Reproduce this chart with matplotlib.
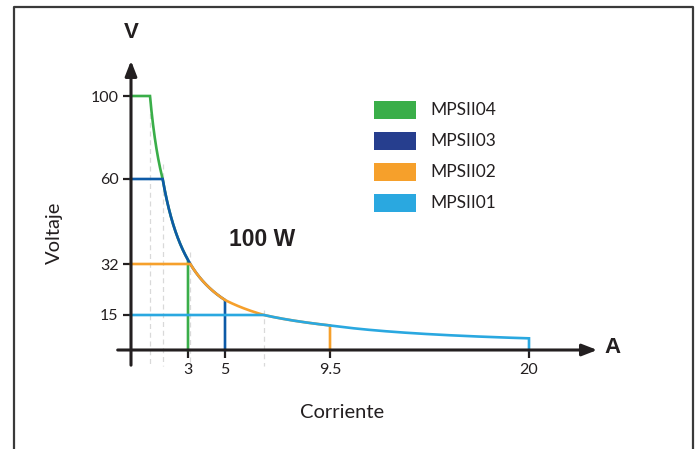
import matplotlib.pyplot as plt
import numpy as np
from matplotlib.lines import Line2D
from matplotlib.patches import Rectangle

# 100 W power curves: constant voltage up to the knee, then V = P / I
power = 100
models = ['MPSII04', 'MPSII03', 'MPSII02', 'MPSII01']
max_volt = [100, 60, 32, 15]
max_curr = [3, 5, 9.5, 20]
colors = ['#3aae49', '#0d5aa7', '#f6a02b', '#2aa8e0']
legend_colors = ['#3aae49', '#263e8e', '#f6a02b', '#2aa8e0']

xticks = [3, 5, 9.5, 20]
yticks = [15, 32, 60, 100]

# the chart is schematic: axis spacing is piecewise, not linear
x_knots = np.array([0, 3, 5, 9.5, 20])
x_pix = np.array([131, 188, 225, 330, 529])
y_knots = np.array([0, 15, 32, 60, 100])
y_pix = np.array([99, 134, 185, 270, 353])


def piecewise(xp, fp):
    def f(v):
        v = np.asarray(v, dtype=float)
        out = np.interp(v, xp, fp)
        lo = v < xp[0]
        hi = v > xp[-1]
        s0 = (fp[1] - fp[0]) / (xp[1] - xp[0])
        s1 = (fp[-1] - fp[-2]) / (xp[-1] - xp[-2])
        out = np.where(lo, fp[0] + (v - xp[0]) * s0, out)
        out = np.where(hi, fp[-1] + (v - xp[-1]) * s1, out)
        return out
    return f


fx, ix = piecewise(x_knots, x_pix), piecewise(x_pix, x_knots)
fy, iy = piecewise(y_knots, y_pix), piecewise(y_pix, y_knots)

fig = plt.figure(figsize=(7, 4.49), dpi=100)
ax = fig.add_axes([0, 0, 1, 1])
ax.set_xscale('function', functions=(fx, ix))
ax.set_yscale('function', functions=(fy, iy))
ax.set_xlim(float(ix(0)), float(ix(700)))
ax.set_ylim(float(iy(0)), float(iy(449)))
ax.patch.set_alpha(0)

# outer frame (open at the bottom)
fig.add_artist(Line2D([14 / 700, 14 / 700, 693 / 700, 693 / 700],
                      [0, 442 / 449, 442 / 449, 0],
                      transform=fig.transFigure, color='#3a3a3a', lw=1.6))

# gray dashed guides at the knees
for v in max_volt:
    knee = power / v
    ax.plot([knee, knee], [min(v * 1.12, 100), -7], color='#d9d9d9', lw=0.9,
            dashes=(4, 3), zorder=1)

order = [2, 0, 1, 3]
for i in order:
    v, imax = max_volt[i], max_curr[i]
    knee = power / v
    cur = np.linspace(knee, imax, 200)
    xs = np.concatenate([[0, knee], cur, [imax]])
    ys = np.concatenate([[v, v], power / cur, [0]])
    ax.plot(xs, ys, color=colors[i], lw=1.9, zorder=3 + i,
            solid_joinstyle='miter')

# axes with arrows
ax.annotate('', xy=(23.6, 0), xytext=(-0.7, 0),
            arrowprops=dict(arrowstyle='-|>,head_length=0.9,head_width=0.35',
                            color='#231f20', lw=2.2, shrinkA=0, shrinkB=0),
            zorder=8)
ax.annotate('', xy=(0, 117), xytext=(0, -6.5),
            arrowprops=dict(arrowstyle='-|>,head_length=0.9,head_width=0.35',
                            color='#231f20', lw=2.2, shrinkA=0, shrinkB=0),
            zorder=8)

for s in ['top', 'right']:
    ax.spines[s].set_visible(False)
ax.spines['left'].set_position(('data', 0))
ax.spines['bottom'].set_position(('data', 0))
ax.spines['left'].set_color('none')
ax.spines['bottom'].set_color('none')

tick_font = ['Lato', 'DejaVu Sans']
ax.set_xticks(xticks)
ax.set_xticklabels(['3', '5', '9.5', '20'])
ax.set_yticks(yticks)
ax.set_yticklabels([str(t) for t in yticks])
ax.tick_params(axis='both', direction='out', length=6, width=1.6,
               color='#231f20', labelsize=11.5, labelcolor='#231f20', pad=3)
for lab in ax.get_xticklabels() + ax.get_yticklabels():
    lab.set_family(tick_font)
ax.minorticks_off()

bold = ['Liberation Sans', 'DejaVu Sans']
ax.text(0, 130.5, 'V', ha='center', va='center', fontsize=16,
        fontweight='bold', family=bold, color='#231f20')
ax.text(24.4, 0.9, 'A', ha='center', va='center', fontsize=16,
        fontweight='bold', family=bold, color='#231f20')
ax.text(6.6, 40, '100 W', ha='center', va='center', fontsize=16.5,
        fontweight='bold', family=bold, color='#231f20')

fig.text(54 / 700, 1 - 233 / 449, 'Voltaje', rotation=90, ha='center',
         va='center', fontsize=14.5, family=tick_font, color='#231f20')
fig.text(342 / 700, 1 - 412 / 449, 'Corriente', ha='center', va='center',
         fontsize=14.5, family=tick_font, color='#231f20')

# legend as colored blocks
for k, (name, c) in enumerate(zip(models, legend_colors)):
    yc = 110 + k * 31
    fig.add_artist(Rectangle((374 / 700, 1 - (yc + 9) / 449), 42 / 700,
                             18 / 449, transform=fig.transFigure,
                             facecolor=c, edgecolor='none'))
    fig.text(430 / 700, 1 - yc / 449, name, ha='left', va='center',
             fontsize=12.5, family=tick_font, color='#231f20')

fig.savefig('out.png', dpi=100)
